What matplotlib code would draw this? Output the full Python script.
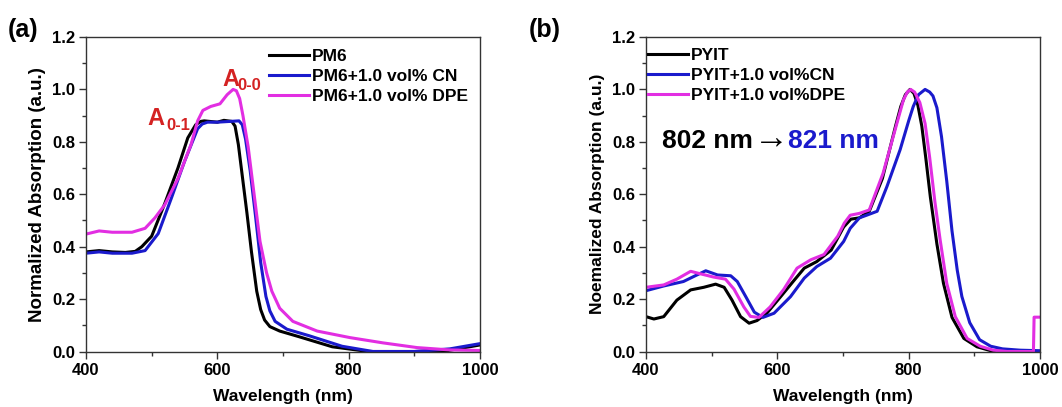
import matplotlib
matplotlib.use("Agg")
import matplotlib.pyplot as plt
from matplotlib.ticker import MultipleLocator
import matplotlib.transforms as mtransforms

plt.rcParams['font.family'] = ['Liberation Sans', 'DejaVu Sans']
plt.rcParams['font.weight'] = 'bold'

BLACK = '#000000'
BLUE = '#1a1acc'
MAGENTA = '#e22ee2'
RED = '#d42222'

# ---------------- Panel (a) data ----------------
pm6_wl = [400, 420, 440, 460, 475, 485, 500, 520, 540, 555, 567, 575, 580, 600, 610, 622,
          627, 632, 638, 645, 652, 660, 666, 672, 680, 695, 725, 775, 830, 900, 950, 1000]
pm6_abs = [0.38, 0.385, 0.38, 0.378, 0.382, 0.40, 0.44, 0.565, 0.70, 0.815, 0.865, 0.878,
           0.88, 0.875, 0.882, 0.878, 0.86, 0.79, 0.67, 0.53, 0.38, 0.23, 0.16, 0.12,
           0.095, 0.078, 0.056, 0.018, 0.0, 0.0, 0.003, 0.025]

pm6cn_wl = [400, 420, 440, 470, 490, 510, 530, 550, 570, 577, 585, 600, 620, 633, 638,
            643, 650, 658, 666, 674, 680, 688, 706, 740, 790, 837, 900, 954, 1000]
pm6cn_abs = [0.375, 0.38, 0.375, 0.375, 0.385, 0.45, 0.585, 0.725, 0.85, 0.868, 0.875,
             0.875, 0.878, 0.88, 0.865, 0.81, 0.69, 0.52, 0.34, 0.21, 0.155, 0.115, 0.085,
             0.06, 0.02, 0.0, 0.0, 0.01, 0.03]

pm6dpe_wl = [400, 420, 440, 470, 490, 505, 520, 540, 560, 570, 578, 590, 604, 615, 624,
             629, 634, 639, 647, 655, 665, 675, 683, 695, 715, 752, 802, 852, 904, 954, 1000]
pm6dpe_abs = [0.448, 0.46, 0.455, 0.455, 0.47, 0.51, 0.56, 0.66, 0.79, 0.88, 0.92, 0.935,
              0.945, 0.98, 1.0, 0.995, 0.965, 0.90, 0.78, 0.62, 0.42, 0.30, 0.23, 0.165,
              0.115, 0.078, 0.053, 0.033, 0.015, 0.006, 0.004]

# ---------------- Panel (b) data ----------------
pyit_wl = [400, 412, 427, 447, 468, 488, 506, 519, 531, 544, 557, 569, 584, 605, 625, 641,
           660, 682, 701, 712, 725, 740, 760, 780, 788, 795, 802, 808, 814, 820, 826, 833,
           843, 853, 866, 884, 904, 925, 1000]
pyit_abs = [0.133, 0.124, 0.133, 0.196, 0.235, 0.245, 0.257, 0.245, 0.196, 0.133, 0.108,
            0.118, 0.146, 0.209, 0.27, 0.318, 0.343, 0.387, 0.475, 0.505, 0.51, 0.535,
            0.66, 0.86, 0.935, 0.98, 1.0, 0.985, 0.94, 0.86, 0.74, 0.59, 0.41, 0.26, 0.13,
            0.05, 0.018, 0.003, 0.0]

pyitcn_wl = [400, 427, 457, 475, 491, 509, 529, 539, 552, 565, 578, 595, 620, 641, 660,
             681, 701, 711, 725, 736, 752, 767, 787, 800, 807, 815, 825, 832, 837, 843,
             850, 858, 866, 874, 881, 893, 908, 925, 943, 970, 1000]
pyitcn_abs = [0.232, 0.25, 0.267, 0.289, 0.308, 0.292, 0.289, 0.267, 0.209, 0.15, 0.13,
              0.146, 0.209, 0.28, 0.324, 0.356, 0.42, 0.47, 0.51, 0.52, 0.535, 0.63, 0.77,
              0.88, 0.935, 0.98, 1.0, 0.99, 0.975, 0.93, 0.82, 0.65, 0.46, 0.31, 0.21,
              0.11, 0.045, 0.02, 0.01, 0.005, 0.003]

pyitdpe_wl = [400, 427, 447, 468, 482, 503, 521, 534, 549, 559, 572, 589, 610, 630, 651,
              671, 692, 702, 711, 725, 740, 761, 782, 792, 798, 803, 809, 817, 825, 832,
              840, 848, 858, 871, 889, 909, 929, 950, 990, 991, 1000]
pyitdpe_abs = [0.245, 0.254, 0.276, 0.306, 0.297, 0.284, 0.276, 0.238, 0.17, 0.134, 0.13,
               0.17, 0.238, 0.318, 0.35, 0.37, 0.44, 0.49, 0.52, 0.527, 0.54, 0.68, 0.87,
               0.96, 0.99, 1.0, 0.99, 0.95, 0.87, 0.74, 0.57, 0.425, 0.26, 0.133, 0.05,
               0.02, 0.005, 0.0, 0.0, 0.131, 0.131]

labels_a = ['PM6', 'PM6+1.0 vol% CN', 'PM6+1.0 vol% DPE']
labels_b = ['PYIT', 'PYIT+1.0 vol%CN', 'PYIT+1.0 vol%DPE']
xticks = [400, 600, 800, 1000]
yticks = [0.0, 0.2, 0.4, 0.6, 0.8, 1.0, 1.2]

W, H = 1062, 407
fig = plt.figure(figsize=(W / 100, H / 100), dpi=100)


def make_axes(x0, x1, y0, y1):
    return fig.add_axes([x0 / W, 1 - y1 / H, (x1 - x0) / W, (y1 - y0) / H])


axa = make_axes(86, 480, 37, 351.5)
axb = make_axes(646, 1040, 37, 351.5)

for ax in (axa, axb):
    ax.set_xlim(400, 1000)
    ax.set_ylim(0, 1.2)
    ax.set_xticks(xticks)
    ax.set_yticks(yticks)
    ax.set_yticklabels([f'{v:.1f}' for v in yticks])
    ax.xaxis.set_minor_locator(MultipleLocator(100))
    ax.yaxis.set_minor_locator(MultipleLocator(0.1))
    ax.tick_params(which='both', direction='out', top=False, right=False,
                   labelsize=12, width=1, color='#333333')
    ax.tick_params(which='major', length=5, pad=3)
    ax.tick_params(which='minor', length=3)
    for s in ax.spines.values():
        s.set_linewidth(1.0)
        s.set_color('#333333')
    for lab in ax.get_xticklabels() + ax.get_yticklabels():
        lab.set_fontweight('bold')
    ax.set_xlabel('Wavelength (nm)', fontsize=12.5, fontweight='bold', labelpad=8)

axa.set_ylabel('Normalized Absorption (a.u.)', fontsize=13.5, fontweight='bold', labelpad=4)
axb.set_ylabel('Noemalized Absorption (a.u.)', fontsize=12.5, fontweight='bold', labelpad=5)

lw = 2.2
axa.plot(pm6_wl, pm6_abs, color=BLACK, lw=lw, label=labels_a[0])
axa.plot(pm6cn_wl, pm6cn_abs, color=BLUE, lw=lw, label=labels_a[1])
axa.plot(pm6dpe_wl, pm6dpe_abs, color=MAGENTA, lw=lw, label=labels_a[2])

axb.plot(pyit_wl, pyit_abs, color=BLACK, lw=lw, label=labels_b[0])
axb.plot(pyitcn_wl, pyitcn_abs, color=BLUE, lw=lw, label=labels_b[1])
axb.plot(pyitdpe_wl, pyitdpe_abs, color=MAGENTA, lw=lw, label=labels_b[2])

leg_kw = dict(frameon=False, fontsize=12.5, handlelength=2.3, handletextpad=0.2,
              labelspacing=0.28, borderpad=0, borderaxespad=0, loc='upper left')
la = axa.legend(bbox_to_anchor=(0.464, 0.962), **leg_kw)
lb = axb.legend(bbox_to_anchor=(0.005, 0.965), **leg_kw)
for leg in (la, lb):
    for t in leg.get_texts():
        t.set_fontweight('bold')

# A0-0 / A0-1 annotations
axa.text(607, 1.013, 'A', color=RED, fontsize=17, fontweight='bold', ha='left', va='baseline')
axa.text(630, 0.998, '0-0', color=RED, fontsize=12, fontweight='bold', ha='left', va='baseline')
axa.text(494, 0.864, 'A', color=RED, fontsize=17, fontweight='bold', ha='left', va='baseline')
axa.text(522, 0.845, '0-1', color=RED, fontsize=12, fontweight='bold', ha='left', va='baseline')

# peak shift text
t1 = axb.text(424, 0.776, '802 nm', color=BLACK, fontsize=19, fontweight='bold',
              ha='left', va='baseline')
fig.canvas.draw()
r = fig.canvas.get_renderer()
bb = t1.get_window_extent(r)
off = mtransforms.offset_copy(axb.transData, fig=fig, x=bb.width + 1, y=-1, units='dots')
t2 = axb.text(424, 0.776, '\u2192', color=BLACK, fontsize=25, fontweight='normal',
              ha='left', va='baseline', transform=off)
bb2 = t2.get_window_extent(r)
off2 = mtransforms.offset_copy(axb.transData, fig=fig, x=bb.width + bb2.width + 1, y=0,
                               units='dots')
axb.text(424, 0.776, '821 nm', color=BLUE, fontsize=19, fontweight='bold',
         ha='left', va='baseline', transform=off2)

fig.text(8 / W, 1 - 37 / H, '(a)', fontsize=18, fontweight='bold', ha='left', va='baseline')
fig.text(529 / W, 1 - 37 / H, '(b)', fontsize=18, fontweight='bold', ha='left', va='baseline')

fig.savefig('out.png', dpi=100)
